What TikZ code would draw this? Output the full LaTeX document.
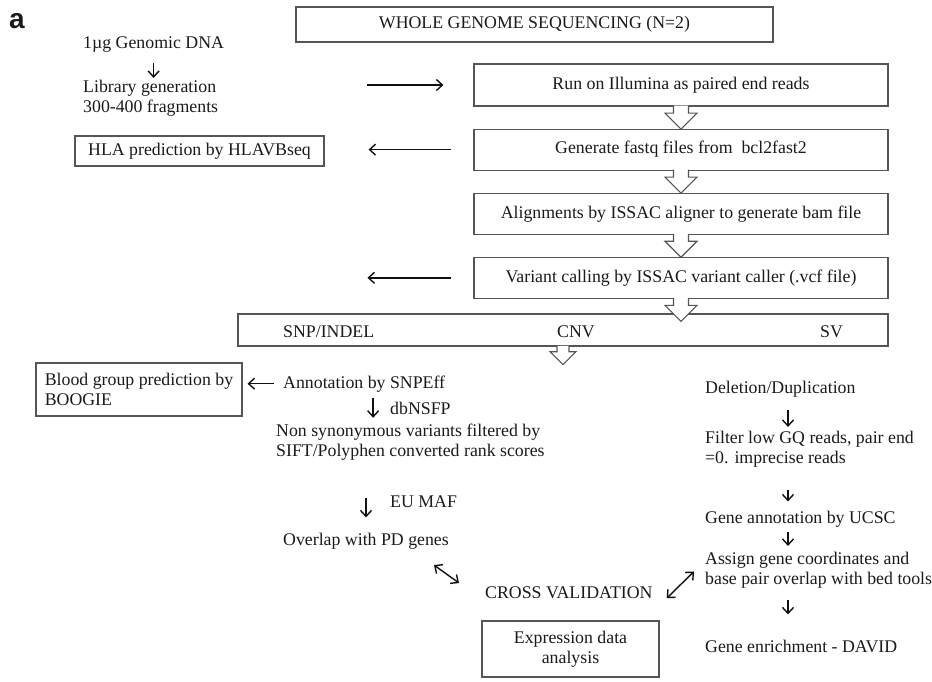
\documentclass[tikz,border=0pt]{standalone}
\usepackage{fontspec}
\setmainfont{Liberation Serif}
\newfontfamily\panelfont{Liberation Sans}
\usetikzlibrary{positioning,calc,arrows.meta}
\definecolor{txt}{HTML}{1A1A1A}
\definecolor{boxB}{HTML}{555555}
\definecolor{arrB}{HTML}{111111}

\begin{document}
\begin{tikzpicture}[x=1pt,y=-1pt,font=\fontsize{17.8}{19.5}\selectfont,text=txt,
  >={Straight Barb[length=6pt,width=11pt]},node distance=22pt,
  bx/.style={draw=boxB,line width=1.1pt,inner sep=0pt,align=center},
  stage/.style={bx,minimum width=414pt,minimum height=41pt},
  tx/.style={inner sep=0pt,anchor=base west,align=left},
  arr/.style={->,draw=arrB,line width=1.4pt},
  arr2/.style={<->,draw=arrB,line width=1.4pt},
  blk/.pic={
    \fill[white] (-7.5,-1) -- (-7.5,6.5) -- (-16,6.5) -- (0,22.5) -- (16,6.5) -- (7.5,6.5) -- (7.5,-1) -- cycle;
    \draw[draw=boxB,line width=1.1pt] (-7.5,-1) -- (-7.5,6.5) -- (-16,6.5) -- (0,22.5) -- (16,6.5) -- (7.5,6.5) -- (7.5,-1);
  }]

\useasboundingbox (0,0) rectangle (932,681);

\node[tx,font=\panelfont\bfseries\fontsize{28}{30}\selectfont] (panel) at (9,28) {a};

% main pipeline
\node[bx,minimum width=477pt,minimum height=35pt] (wgs) at (534.5,24.5) {WHOLE GENOME SEQUENCING (N=2)};
\node[stage,minimum height=42pt] (run) at (681,85) {Run on Illumina as paired end reads};
\node[stage,below=of run] (gen) {Generate fastq files from\ \ bcl2fast2};
\node[stage,below=of gen] (aln) {Alignments by ISSAC aligner to generate bam file};
\node[stage,below=of aln] (var) {Variant calling by ISSAC variant caller (.vcf file)};
\node[bx,minimum width=650pt,minimum height=32pt] (typ) at (563,330) {};
\node[tx] (snp) at (283,337) {SNP/INDEL};
\node[tx] (cnv) at (557,337) {CNV};
\node[tx] (sv) at (820,337) {SV};

\pic at (run.south) {blk};
\pic at (gen.south) {blk};
\pic at (aln.south) {blk};
\pic at (var.south) {blk};
\pic[scale=0.8] at (typ.south) {blk};

% sample preparation
\node[tx] (dna) at (83,48) {1µg Genomic DNA};
\node[tx] (lib) at (83,112) {Library generation\\300-400 fragments};
\draw[arr,shorten <=11pt,shorten >=2pt] (dna.south) -- (dna.south |- lib.north);
\draw[arr,shorten <=149pt,shorten >=30pt] (lib.east |- run.west) -- (run.west);

\node[bx,minimum width=249pt,minimum height=30pt] (hla) at (199.5,151) {HLA prediction by HLAVBseq};
\draw[arr,shorten <=22pt,shorten >=44pt] (gen.west) -- (gen.west -| hla.east);

\coordinate[left=106pt of var.west] (vout);
\draw[arr,shorten <=22pt] (var.west) -- (vout);

% SNP/INDEL branch
\node[bx,minimum width=206pt,minimum height=53pt,align=left] (bld) at (139,389.5) {Blood group prediction by\\BOOGIE};
\node[tx] (ann) at (283,388) {Annotation by SNPEff};
\node[tx] (dbn) at (390,414) {dbNSFP};
\node[tx] (nsv) at (276,456) {Non synonymous variants filtered by\\SIFT/Polyphen converted rank scores};
\node[tx] (eum) at (390,507) {EU MAF};
\node[tx] (ovl) at (283,545) {Overlap with PD genes};
\draw[arr,shorten <=9pt,shorten >=5pt] (ann.west) -- (ann.west -| bld.east);
\draw[arr,shorten <=6pt,shorten >=6pt] ([xshift=9pt]ann.south) -- ([xshift=9pt]ann.south |- nsv.north);
\draw[arr,shorten <=38pt,shorten >=15pt] (ovl.north |- nsv.south) -- (ovl.north);

% cross validation
\node[tx] (crs) at (485,598) {CROSS VALIDATION};
\node[bx,minimum width=177pt,minimum height=56pt] (expr) at (570.5,649) {Expression data\\analysis};

% SV branch
\coordinate (col) at (788,0);
\node[tx] (del) at (705,393) {Deletion/Duplication};
\node[tx] (flt) at (705,463) {Filter low GQ reads, pair end\\=0. imprecise reads};
\node[tx] (gan) at (705,523) {Gene annotation by UCSC};
\node[tx] (asg) at (705,584) {Assign gene coordinates and\\base pair overlap with bed tools};
\node[tx] (enr) at (705,652) {Gene enrichment - DAVID};
\draw[arr,shorten <=13pt,shorten >=4pt] (del.south -| col) -- (flt.north -| col);
\draw[arr,shorten <=23pt,shorten >=9pt] (flt.south -| col) -- (gan.north -| col);
\draw[arr,shorten <=5pt,shorten >=6pt] (gan.south -| col) -- (asg.north -| col);
\draw[arr,shorten <=12pt,shorten >=25pt] (asg.south -| col) -- (enr.north -| col);

\draw[arr2] ($(ovl.south east)+(-15,16)$) -- ($(crs.north west)+(-26,-3)$);
\draw[arr2] ($(crs.east)+(14,6)$) -- ($(asg.west)+(-11,1.5)$);

\end{tikzpicture}
\end{document}
